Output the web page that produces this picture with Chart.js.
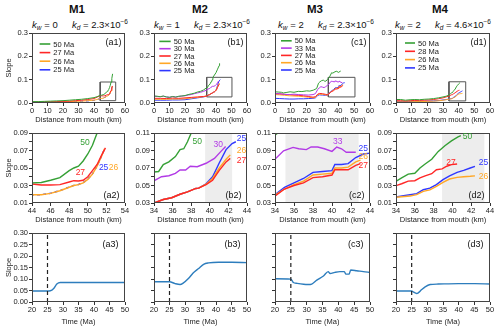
<!DOCTYPE html>
<html>
<head>
<meta charset="utf-8">
<script src="https://cdn.jsdelivr.net/npm/chart.js@4.4.1/dist/chart.umd.min.js"></script>
<style>
body { margin:0; background:#fff; width:500px; height:326px; overflow:hidden; position:relative;
       font-family:"Liberation Sans", Arial, Helvetica, sans-serif; color:#111; }
canvas { position:absolute; }
.tit { position:absolute; width:120px; text-align:center; font-weight:bold; font-size:11.5px; line-height:13px; }
.kk { position:absolute; width:150px; text-align:center; font-size:9.5px; line-height:12px; white-space:nowrap; }
.kk sub { font-size:6.5px; line-height:0; vertical-align:-2px; font-style:italic; }
.kk sup { font-size:6.5px; line-height:0; vertical-align:4px; }
</style>
</head>
<body>
<div class="tit" style="left:17px;top:3px">M1</div>
<div class="tit" style="left:140px;top:3px">M2</div>
<div class="tit" style="left:255px;top:3px">M3</div>
<div class="tit" style="left:380px;top:3px">M4</div>
<div class="kk" style="left:5px;top:19px"><i>k</i><sub>w</sub> = 0&emsp;&ensp;<i>k</i><sub>d</sub> = 2.3×10<sup>−6</sup></div>
<div class="kk" style="left:127px;top:19px"><i>k</i><sub>w</sub> = 1&emsp;&ensp;<i>k</i><sub>d</sub> = 2.3×10<sup>−6</sup></div>
<div class="kk" style="left:251px;top:19px"><i>k</i><sub>w</sub> = 2&emsp;&ensp;<i>k</i><sub>d</sub> = 2.3×10<sup>−6</sup></div>
<div class="kk" style="left:368px;top:19px"><i>k</i><sub>w</sub> = 2&emsp;&ensp;<i>k</i><sub>d</sub> = 4.6×10<sup>−6</sup></div>
<script>
// ---------- datos: pendiente vs distancia (km) ----------
// M1 (kw = 0)
const m1_x50 = [0, 4, 8, 12, 16, 20, 24, 28, 32, 36, 40, 42, 44, 45, 46, 47, 48, 48.5, 49, 49.5, 50, 50.5, 51, 51.5, 52];
const m1_y50 = [0.006, 0.006, 0.007, 0.008, 0.009, 0.010, 0.012, 0.014, 0.016, 0.019, 0.023, 0.027, 0.033, 0.0335, 0.036, 0.039, 0.047, 0.050, 0.052, 0.058, 0.066, 0.076, 0.090, 0.105, 0.125];
const m1_x27 = [0, 4, 8, 12, 16, 20, 24, 28, 32, 36, 40, 42, 44, 45, 46, 47, 48, 48.5, 49, 49.5, 50, 50.5, 51, 51.5, 51.9];
const m1_y27 = [0.004, 0.004, 0.005, 0.005, 0.006, 0.007, 0.008, 0.010, 0.012, 0.015, 0.019, 0.025, 0.0317, 0.0306, 0.0305, 0.031, 0.034, 0.0355, 0.0352, 0.036, 0.040, 0.047, 0.054, 0.065, 0.073];
const m1_x26 = [0, 4, 8, 12, 16, 20, 24, 28, 32, 36, 40, 42, 44, 45, 46, 47, 48, 48.5, 49, 49.5, 50, 50.5, 51, 51.5, 51.8];
const m1_y26 = [0.003, 0.003, 0.003, 0.004, 0.004, 0.005, 0.006, 0.007, 0.008, 0.010, 0.012, 0.015, 0.0195, 0.0195, 0.021, 0.024, 0.028, 0.030, 0.031, 0.033, 0.037, 0.043, 0.052, 0.064, 0.072];
const m1_x25 = [0, 4, 8, 12, 16, 20, 24, 28, 32, 36, 40, 42, 44, 45, 46, 47, 48, 48.5, 49, 49.5, 50, 50.5, 51, 51.5, 51.8];
const m1_y25 = [0.002, 0.002, 0.003, 0.003, 0.004, 0.004, 0.005, 0.006, 0.008, 0.009, 0.011, 0.015, 0.0193, 0.0195, 0.0212, 0.0242, 0.0282, 0.0302, 0.0312, 0.0332, 0.0372, 0.0432, 0.0522, 0.0642, 0.0722];

// M2 (kw = 1)
const m2_x50 = [0, 2, 4, 6, 8, 10, 12, 14, 16, 18, 20, 22, 24, 26, 28, 30, 32, 34, 34.5, 35, 35.6, 36.3, 36.8, 37.2, 37.6, 38, 39, 40, 41, 42, 42.3];
const m2_y50 = [0.030, 0.029, 0.027, 0.030, 0.026, 0.024, 0.028, 0.025, 0.029, 0.030, 0.032, 0.036, 0.039, 0.042, 0.047, 0.050, 0.056, 0.0654, 0.066, 0.074, 0.077, 0.083, 0.091, 0.092, 0.100, 0.110, 0.120, 0.130, 0.145, 0.160, 0.170];
const m2_x30 = [0, 2, 4, 6, 8, 10, 12, 14, 16, 18, 20, 22, 24, 26, 28, 30, 32, 34, 34.8, 35.6, 36.3, 36.8, 37.4, 37.9, 38.65, 39.6, 40.5, 41.2, 41.7];
const m2_y30 = [0.029, 0.028, 0.027, 0.029, 0.026, 0.025, 0.027, 0.026, 0.028, 0.030, 0.031, 0.034, 0.036, 0.040, 0.043, 0.046, 0.050, 0.0554, 0.060, 0.0612, 0.0639, 0.0677, 0.0677, 0.072, 0.0715, 0.0754, 0.081, 0.089, 0.0946];
const m2_x27 = [0, 4, 8, 12, 16, 20, 24, 28, 32, 34, 35, 35.9, 36.8, 37.6, 38.5, 38.8, 39.6, 40.3, 41, 41.75, 42.2];
const m2_y27 = [0.020, 0.020, 0.019, 0.021, 0.020, 0.022, 0.024, 0.026, 0.028, 0.030, 0.034, 0.036, 0.040, 0.0427, 0.0466, 0.047, 0.051, 0.056, 0.067, 0.077, 0.081];
const m2_x26 = [0, 4, 8, 12, 16, 20, 24, 28, 32, 34, 35, 35.9, 36.8, 37.6, 38.5, 38.8, 39.6, 40.3, 41, 41.75, 42.2];
const m2_y26 = [0.016, 0.016, 0.016, 0.017, 0.017, 0.018, 0.021, 0.024, 0.027, 0.030, 0.034, 0.036, 0.040, 0.0427, 0.0466, 0.047, 0.0515, 0.058, 0.0697, 0.080, 0.085];
const m2_x25 = [0, 4, 8, 12, 16, 20, 24, 28, 32, 34, 35, 35.9, 36.8, 37.6, 38.5, 38.8, 39.6, 40.3, 41, 41.75, 42.4, 42.8];
const m2_y25 = [0.012, 0.012, 0.012, 0.013, 0.013, 0.014, 0.018, 0.022, 0.026, 0.030, 0.034, 0.036, 0.040, 0.0427, 0.0466, 0.047, 0.052, 0.060, 0.0754, 0.091, 0.098, 0.100];

// M3 (kw = 2)
const m3_x50 = [0, 2, 4, 5.3, 7, 9.5, 12, 14.7, 17, 20, 22, 24.2, 26.3, 27.5, 28.4, 29.5, 30.5, 31.5, 32.2, 33, 34.3, 35.8, 36.5, 37.9, 39, 40, 41.5];
const m3_y50 = [0.048, 0.047, 0.046, 0.043, 0.045, 0.048, 0.046, 0.050, 0.049, 0.052, 0.051, 0.055, 0.062, 0.085, 0.091, 0.096, 0.098, 0.093, 0.094, 0.100, 0.110, 0.130, 0.128, 0.134, 0.136, 0.131, 0.137];
const m3_x33 = [0, 3, 6, 9, 12, 15, 18, 21, 24, 25.5, 27, 28, 29, 30, 31, 32, 33, 34, 34.9, 35.9, 36.5, 37.3, 37.8, 38.5, 39.2, 40, 40.5, 41, 41.5, 42.5];
const m3_y33 = [0.040, 0.040, 0.037, 0.036, 0.038, 0.036, 0.035, 0.034, 0.036, 0.040, 0.058, 0.065, 0.070, 0.068, 0.066, 0.070, 0.075, 0.080, 0.0897, 0.0935, 0.092, 0.091, 0.094, 0.094, 0.092, 0.089, 0.094, 0.092, 0.088, 0.088];
const m3_x27 = [0, 3, 6, 9, 12, 15, 18, 21, 24, 25.5, 27, 28, 30, 32, 33, 34, 35, 36, 37, 38, 39, 40, 40.3, 41, 41.7, 42.5, 43];
const m3_y27 = [0.040, 0.039, 0.037, 0.036, 0.034, 0.033, 0.031, 0.028, 0.025, 0.027, 0.038, 0.041, 0.040, 0.037, 0.035, 0.038, 0.046, 0.050, 0.053, 0.059, 0.060, 0.062, 0.068, 0.068, 0.068, 0.073, 0.075];
const m3_x26 = [0, 3, 6, 9, 12, 15, 18, 21, 24, 25.5, 27, 28, 30, 32, 33, 34, 35, 36, 37, 38, 39, 40, 40.3, 41, 41.7, 42.5, 43];
const m3_y26 = [0.036, 0.035, 0.033, 0.031, 0.030, 0.029, 0.027, 0.025, 0.022, 0.025, 0.035, 0.038, 0.037, 0.035, 0.034, 0.039, 0.046, 0.051, 0.055, 0.062, 0.063, 0.064, 0.070, 0.070, 0.071, 0.077, 0.079];
const m3_x25 = [0, 3, 6, 9, 12, 15, 18, 21, 24, 25.5, 27, 28, 30, 32, 33, 34, 35, 36, 37, 38, 39, 40, 40.3, 41, 41.7, 42.5, 43.3, 44];
const m3_y25 = [0.020, 0.019, 0.018, 0.017, 0.017, 0.018, 0.018, 0.019, 0.020, 0.022, 0.032, 0.035, 0.034, 0.033, 0.034, 0.0396, 0.048, 0.053, 0.058, 0.065, 0.066, 0.067, 0.074, 0.074, 0.075, 0.082, 0.086, 0.087];

// M4 (kw = 2, kd = 4.6e-6)
const m4_x50 = [0, 3, 6, 9, 12, 15, 18, 21, 24, 27, 30, 32, 34, 34.6, 35.3, 36, 36.55, 37.1, 37.8, 38.5, 39.2, 39.9, 40.6, 40.9];
const m4_y50 = [0.015, 0.015, 0.012, 0.014, 0.015, 0.014, 0.016, 0.017, 0.019, 0.022, 0.026, 0.029, 0.0348, 0.0386, 0.043, 0.044, 0.050, 0.0546, 0.060, 0.069, 0.0755, 0.081, 0.0855, 0.087];
const m4_x28 = [0, 3, 6, 9, 12, 15, 18, 21, 24, 27, 30, 32, 34, 34.6, 35.3, 36, 36.55, 37.1, 37.8, 38.3, 38.9, 39.4, 39.9, 40.5];
const m4_y28 = [0.010, 0.010, 0.009, 0.010, 0.011, 0.011, 0.012, 0.013, 0.015, 0.018, 0.022, 0.026, 0.0298, 0.032, 0.035, 0.0355, 0.0386, 0.041, 0.0435, 0.048, 0.049, 0.052, 0.0538, 0.0546];
const m4_x26 = [0, 4, 8, 12, 16, 20, 24, 28, 32, 34, 35.5, 36.2, 36.9, 37.6, 38.3, 39, 39.7, 40.5, 41.2, 41.9, 42.4];
const m4_y26 = [0.005, 0.005, 0.005, 0.006, 0.006, 0.007, 0.008, 0.010, 0.014, 0.0165, 0.018, 0.0195, 0.0233, 0.025, 0.029, 0.0336, 0.0374, 0.0393, 0.040, 0.0405, 0.041];
const m4_x25 = [0, 4, 8, 12, 16, 20, 24, 28, 32, 34, 34.8, 35.5, 36.2, 36.9, 37.6, 38.3, 39, 39.7, 40.5, 41.2, 41.9, 42.4];
const m4_y25 = [0.006, 0.006, 0.006, 0.007, 0.007, 0.008, 0.009, 0.011, 0.015, 0.0169, 0.0184, 0.0195, 0.0207, 0.0252, 0.027, 0.031, 0.0367, 0.041, 0.045, 0.0473, 0.050, 0.0519];

// ---------- datos: pendiente vs tiempo (Ma) ----------
const a3_t = [20, 25, 25.9, 27, 28, 29.1, 35, 40, 45, 50];
const a3_s = [0.048, 0.048, 0.049, 0.059, 0.078, 0.085, 0.085, 0.085, 0.085, 0.085];
const b3_t = [20, 25, 26.8, 28.4, 29.5, 31.1, 32.7, 34.4, 36, 37.6, 40.8, 45.1, 50];
const b3_s = [0.088, 0.088, 0.080, 0.076, 0.083, 0.102, 0.127, 0.146, 0.164, 0.170, 0.173, 0.173, 0.171];
const c3_t = [20, 25, 25.8, 27, 29, 30.5, 31.6, 33.2, 35.3, 36.8, 37.4, 38.9, 40.5, 41.9, 42.4, 43.4, 43.9, 45.8, 47.9, 50];
const c3_s = [0.101, 0.0995, 0.085, 0.081, 0.077, 0.076, 0.078, 0.095, 0.113, 0.132, 0.124, 0.129, 0.132, 0.132, 0.121, 0.121, 0.139, 0.136, 0.132, 0.129];
const d3_t = [20, 25, 25.5, 26.6, 27.1, 28.2, 29.3, 30.9, 33.5, 39.9, 45.2, 50];
const d3_s = [0.048, 0.048, 0.044, 0.037, 0.040, 0.054, 0.066, 0.076, 0.078, 0.080, 0.080, 0.078];
const t_corte = 25;   // linea discontinua

// nombres de las series (leyendas)
const leyenda_m1 = ['50 Ma', '27 Ma', '26 Ma', '25 Ma'];
const leyenda_m2 = ['50 Ma', '30 Ma', '27 Ma', '26 Ma', '25 Ma'];
const leyenda_m3 = ['50 Ma', '33 Ma', '27 Ma', '26 Ma', '25 Ma'];
const leyenda_m4 = ['50 Ma', '28 Ma', '26 Ma', '25 Ma'];

// ejes
const dist_fila1 = [0, 60];
const pend_fila1 = [0, 0.3];
const dist_zoom = [[44, 54], [34, 44], [34, 44], [34, 44]];
const pend_zoom = [[0.01, 0.09], [0.03, 0.11], [0.03, 0.11], [0.01, 0.09]];
const tiempo_fila3 = [20, 50];
const pend_fila3 = [0, 0.3];
// recuadros de zoom dibujados en la fila 1
const caja_x = [[44, 54], [34, 50.3], [33.7, 50.5], [33.8, 44.5]];
const caja_y = [[0.01, 0.09], [0.026, 0.11], [0.026, 0.11], [0.009, 0.091]];
// franjas grises de la fila 2
const franja = [null, [39.5, 42.4], [35.1, 42.8], [38.9, 43.4]];

// ---------- estilo ----------
const VERDE = '#35a035', ROJO = '#ff2626', NARANJA = '#ffa726', AZUL = '#2f37ff', MORADO = '#b23ae6', CELESTE = '#2d7dbd';
Chart.defaults.font.family = '"Liberation Sans", Arial, Helvetica, sans-serif';
Chart.defaults.font.size = 7.5;
Chart.defaults.color = '#222';

const COL_L = [32, 154, 275, 396], COL_R = [125, 247, 370, 490];
const FIL_T = [33, 133, 233], FIL_B = [103, 203, 302];

function serie(xs, ys) {
    return xs.map((x, i) => ({x: x, y: ys[i]}));
}

function lienzo(id, fila, col) {
    const c = document.createElement('canvas');
    c.id = id;
    const w = COL_R[col] - COL_L[col] + 40;
    const h = FIL_B[fila] - FIL_T[fila] + 34;
    c.width = w; c.height = h;
    c.style.width = w + 'px'; c.style.height = h + 'px';
    c.style.left = (COL_L[col] - 32) + 'px';
    c.style.top = (FIL_T[fila] - 8) + 'px';
    document.body.appendChild(c);
    return c.getContext('2d');
}

// extras por panel: rotulo, leyenda, etiquetas en linea
const extras = {};

const adornos = {
    id: 'adornos',
    beforeDatasetsDraw(chart) {
        const ex = extras[chart.canvas.id];
        if (!ex || !ex.franja) return;
        const a = chart.chartArea, x = chart.scales.x, ctx = chart.ctx;
        const x0 = x.getPixelForValue(ex.franja[0]), x1 = x.getPixelForValue(ex.franja[1]);
        ctx.save();
        ctx.fillStyle = '#ededed';
        ctx.fillRect(x0, a.top, x1 - x0, a.bottom - a.top);
        ctx.restore();
    },
    afterDatasetsDraw(chart) {
        const ex = extras[chart.canvas.id];
        const a = chart.chartArea, ctx = chart.ctx;
        ctx.save();
        // marco
        ctx.strokeStyle = '#444';
        ctx.lineWidth = 1;
        ctx.strokeRect(Math.round(a.left) + 0.5, Math.round(a.top) + 0.5, Math.round(a.right - a.left) - 1, Math.round(a.bottom - a.top) - 1);
        ctx.font = '9px "Liberation Sans", Arial, sans-serif';
        ctx.fillStyle = '#111';
        ctx.textAlign = 'right';
        ctx.textBaseline = 'middle';
        if (ex.lugar === 'abajo') ctx.fillText(ex.rotulo, a.right - ex.dx, a.bottom - ex.dy);
        else ctx.fillText(ex.rotulo, a.right - ex.dx, a.top + ex.dy);
        // leyenda dentro del panel
        if (ex.leyenda) {
            const L = ex.leyenda;
            let k = 0;
            ctx.font = '7.5px "Liberation Sans", Arial, sans-serif';
            ctx.textAlign = 'left';
            chart.data.datasets.forEach(ds => {
                if (!ds.enLeyenda) return;
                const y = a.top + L.y0 + k * L.paso;
                ctx.strokeStyle = ds.borderColor;
                ctx.lineWidth = 1.6;
                ctx.beginPath();
                ctx.moveTo(a.left + L.x0, y);
                ctx.lineTo(a.left + L.x0 + L.largo, y);
                ctx.stroke();
                ctx.fillStyle = '#222';
                ctx.fillText(ds.label, a.left + L.x0 + L.largo + 3, y + 0.5);
                k++;
            });
        }
        // etiquetas de edad junto a las curvas
        if (ex.etiquetas) {
            ctx.font = '8.5px "Liberation Sans", Arial, sans-serif';
            ctx.textAlign = 'center';
            ex.etiquetas.forEach(e => {
                ctx.fillStyle = e.c;
                ctx.fillText(e.t, chart.scales.x.getPixelForValue(e.x), chart.scales.y.getPixelForValue(e.y));
            });
        }
        ctx.restore();
    }
};

function escalas(xr, xPaso, yr, yPaso, xTitulo, conTituloY, fmtY, padTitulo) {
    return {
        x: {
            type: 'linear', min: xr[0], max: xr[1],
            ticks: {stepSize: xPaso, padding: 0, maxRotation: 0, autoSkip: false, font: {size: 7.5}},
            grid: {drawOnChartArea: false, tickLength: 3, color: '#333'},
            border: {display: false},
            title: {display: true, text: xTitulo, font: {size: 7.5}, padding: {top: 0, bottom: padTitulo}},
            afterFit: s => { s.height = 26; }
        },
        y: {
            type: 'linear', min: yr[0], max: yr[1],
            ticks: {stepSize: yPaso, padding: 1, autoSkip: false, font: {size: 7.5}, callback: fmtY},
            grid: {drawOnChartArea: false, tickLength: 3, color: '#333'},
            border: {display: false},
            title: {display: conTituloY, text: 'Slope', font: {size: 7.5}, padding: {top: 4, bottom: 0}},
            afterFit: s => { s.width = 32; }
        }
    };
}

function grafico(ctx, datasets, scales) {
    return new Chart(ctx, {
        type: 'line',
        data: {datasets: datasets},
        options: {
            responsive: false,
            animation: false,
            layout: {padding: {left: 0, top: 8, right: 8, bottom: 0}},
            elements: {point: {radius: 0}, line: {tension: 0}},
            plugins: {legend: {display: false}, tooltip: {enabled: false}},
            scales: scales
        },
        plugins: [adornos]
    });
}

function linea(nombre, xs, ys, color, ancho, extra) {
    return Object.assign({label: nombre, data: serie(xs, ys), borderColor: color, borderWidth: ancho, fill: false, enLeyenda: true}, extra || {});
}

// series de cada modelo
const modelos = [
    {id: 'a', nombres: leyenda_m1, curvas: [[m1_x50, m1_y50, VERDE], [m1_x27, m1_y27, ROJO], [m1_x26, m1_y26, NARANJA], [m1_x25, m1_y25, AZUL, {borderDash: [3, 3]}]]},
    {id: 'b', nombres: leyenda_m2, curvas: [[m2_x50, m2_y50, VERDE], [m2_x30, m2_y30, MORADO], [m2_x27, m2_y27, ROJO], [m2_x26, m2_y26, NARANJA], [m2_x25, m2_y25, AZUL]]},
    {id: 'c', nombres: leyenda_m3, curvas: [[m3_x50, m3_y50, VERDE], [m3_x33, m3_y33, MORADO], [m3_x27, m3_y27, ROJO], [m3_x26, m3_y26, NARANJA], [m3_x25, m3_y25, AZUL]]},
    {id: 'd', nombres: leyenda_m4, curvas: [[m4_x50, m4_y50, VERDE], [m4_x28, m4_y28, ROJO], [m4_x26, m4_y26, NARANJA], [m4_x25, m4_y25, AZUL]]}
];

const leyendas = [
    {x0: 7.6, y0: 11, paso: 8.6, largo: 10.7},
    {x0: 5.3, y0: 8.4, paso: 7.3, largo: 11.4},
    {x0: 6, y0: 7.8, paso: 7.3, largo: 10.7},
    {x0: 9, y0: 10, paso: 8.3, largo: 10}
];

const etiquetas = [
    [{t: '50', x: 49.7, y: 0.0793, c: VERDE}, {t: '27', x: 49.2, y: 0.045, c: ROJO}, {t: '25', x: 51.7, y: 0.05, c: AZUL}, {t: '26', x: 52.75, y: 0.05, c: NARANJA}],
    [{t: '50', x: 38.65, y: 0.1005, c: VERDE}, {t: '30', x: 40.9, y: 0.0966, c: MORADO}, {t: '25', x: 43.4, y: 0.104, c: AZUL}, {t: '26', x: 43.4, y: 0.090, c: NARANJA}, {t: '27', x: 43.4, y: 0.078, c: ROJO}],
    [{t: '33', x: 40.6, y: 0.100, c: MORADO}, {t: '25', x: 43.3, y: 0.0924, c: AZUL}, {t: '26', x: 43.3, y: 0.0827, c: NARANJA}, {t: '27', x: 43.3, y: 0.0731, c: ROJO}],
    [{t: '50', x: 41.6, y: 0.0854, c: VERDE}, {t: '27', x: 39.85, y: 0.0565, c: ROJO}, {t: '25', x: 43.3, y: 0.0557, c: AZUL}, {t: '26', x: 43.3, y: 0.0405, c: NARANJA}]
];

const tiempo_t = [a3_t, b3_t, c3_t, d3_t];
const tiempo_s = [a3_s, b3_s, c3_s, d3_s];

modelos.forEach((m, col) => {
    // fila 1: perfil completo
    const id1 = m.id + '1';
    extras[id1] = {rotulo: '(' + id1 + ')', lugar: 'arriba', dx: 3.4, dy: 10, leyenda: leyendas[col]};
    const ds1 = m.curvas.map((c, i) => linea(m.nombres[i], c[0], c[1], c[2], 1, c[3]));
    const cx = caja_x[col], cy = caja_y[col];
    ds1.push({label: 'zoom', data: serie([cx[0], cx[1], cx[1], cx[0], cx[0]], [cy[0], cy[0], cy[1], cy[1], cy[0]]),
              borderColor: '#555', borderWidth: 1, fill: false, enLeyenda: false});
    grafico(lienzo(id1, 0, col), ds1,
        escalas(dist_fila1, 10, pend_fila1, 0.1, 'Distance from mouth (km)', col === 0, v => v.toFixed(1), 5));

    // fila 2: detalle
    const id2 = m.id + '2';
    extras[id2] = {rotulo: '(' + id2 + ')', lugar: 'abajo', dx: 5.5, dy: 7, franja: franja[col], etiquetas: etiquetas[col]};
    const ds2 = m.curvas.map((c, i) => linea(m.nombres[i], c[0], c[1], c[2], 1.4, c[3]));
    grafico(lienzo(id2, 1, col), ds2,
        escalas(dist_zoom[col], 2, pend_zoom[col], 0.01, 'Distance from mouth (km)', col === 0,
                (v, i) => (i % 2 === 0 ? v.toFixed(2) : ''), 5));

    // fila 3: pendiente en el tiempo
    const id3 = m.id + '3';
    extras[id3] = {rotulo: '(' + id3 + ')', lugar: 'arriba', dx: 6.5, dy: 11.7};
    const ds3 = [
        {label: 'corte', data: serie([t_corte, t_corte], pend_fila3), borderColor: '#222', borderWidth: 1.2, borderDash: [4, 3], fill: false},
        {label: 'slope', data: serie(tiempo_t[col], tiempo_s[col]), borderColor: CELESTE, borderWidth: 1.4, fill: false, cubicInterpolationMode: 'monotone'}
    ];
    grafico(lienzo(id3, 2, col), ds3,
        escalas(tiempo_fila3, 5, pend_fila3, 0.05, 'Time (Ma)', col === 0,
                v => (col === 0 ? v.toFixed(2) : ''), 2));
});
</script>
</body>
</html>
